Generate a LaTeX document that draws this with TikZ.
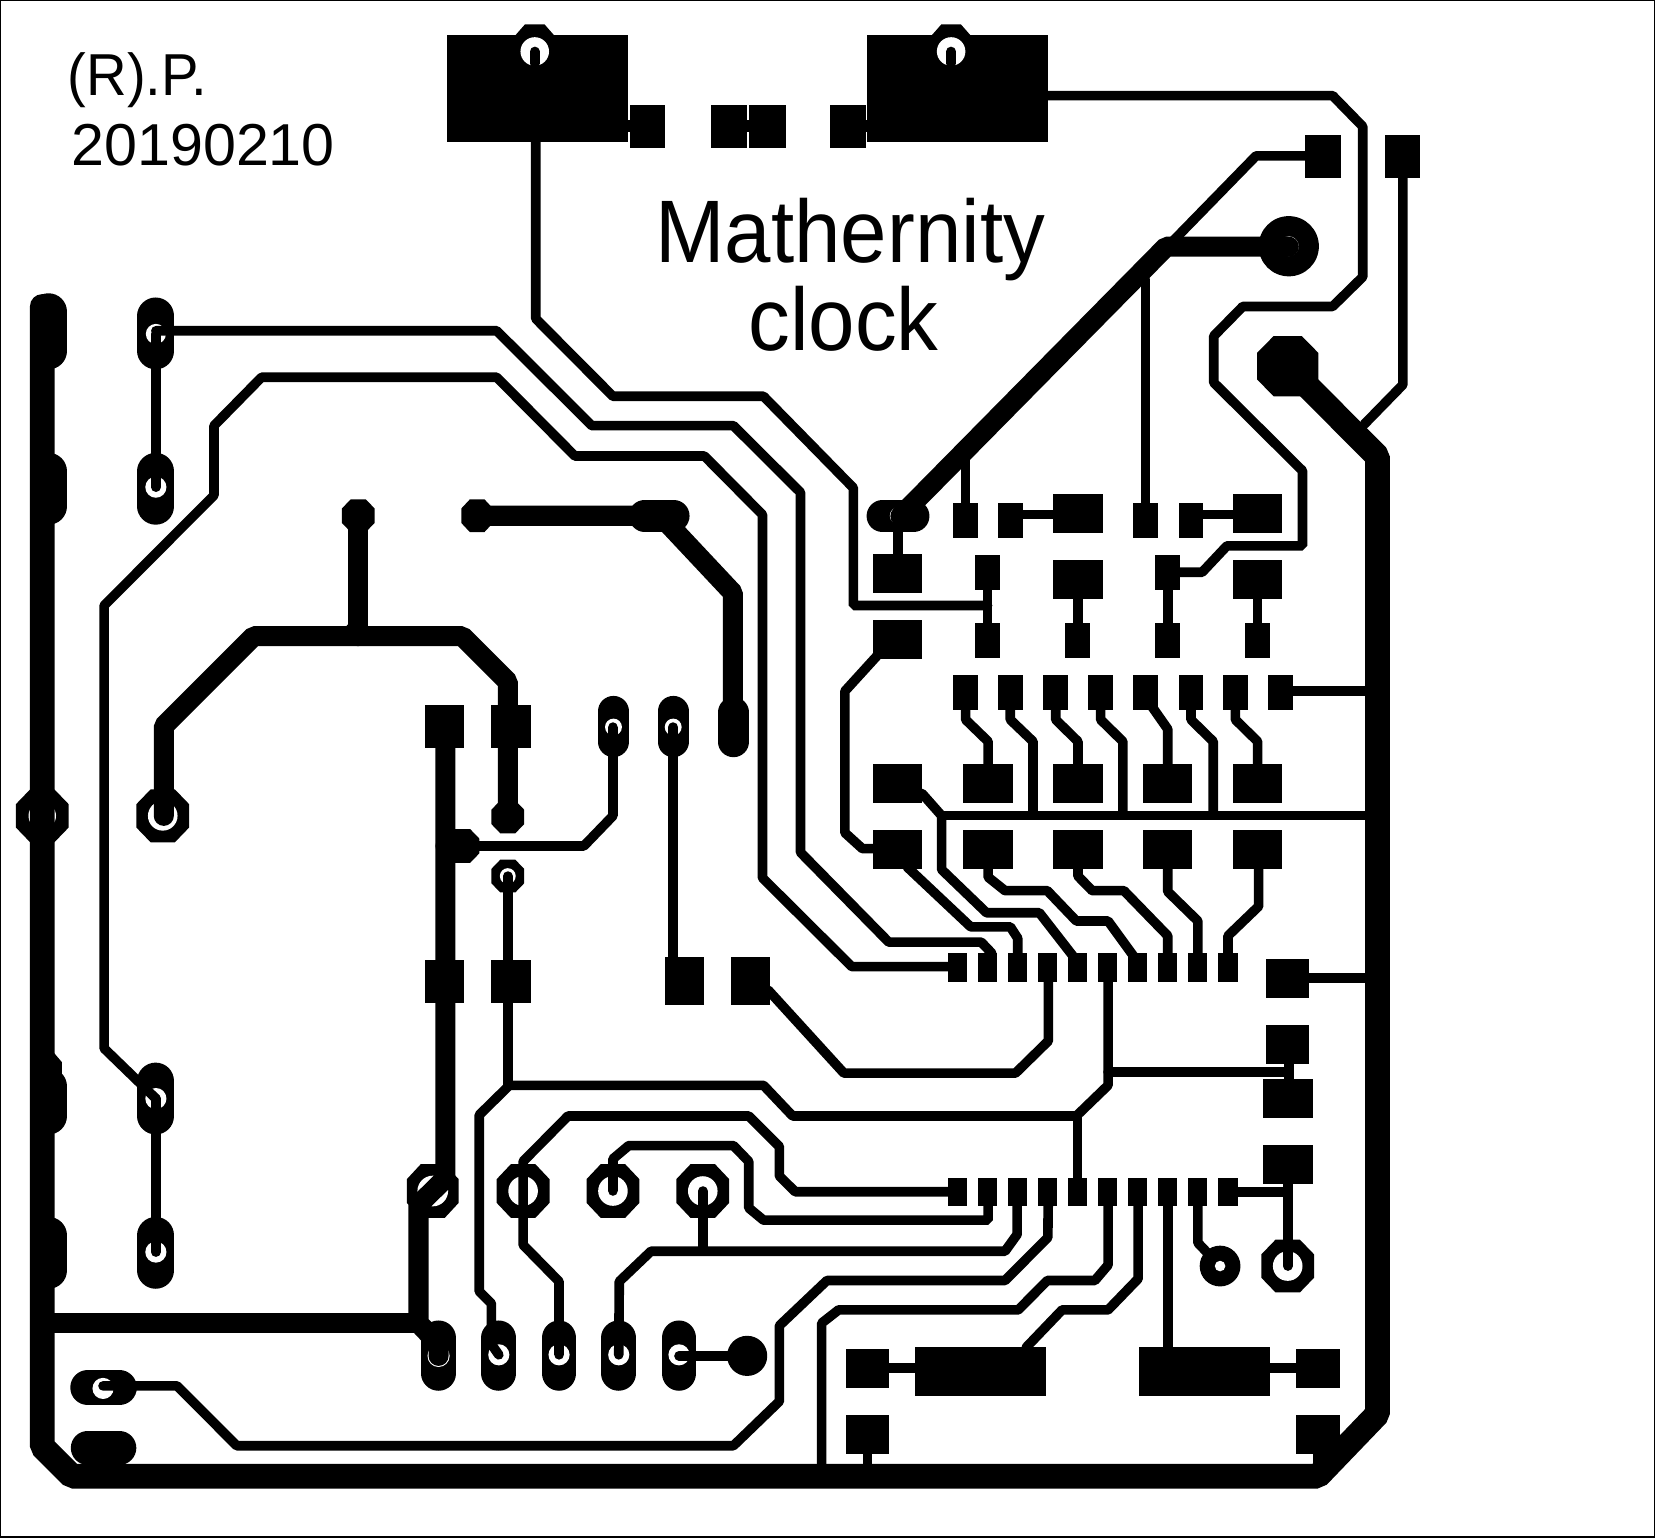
\documentclass[tikz,border=0pt]{standalone}
\usepackage{fontspec}
\setmainfont{Liberation Sans}
\newcommand\octpad[4]{\fill[shift={(#1,#2)},xscale=#3,yscale=#4] (-1,-.44)--(-.46,-1)--(.46,-1)--(1,-.44)--(1,.44)--(.46,1)--(-.46,1)--(-1,.44)--cycle;}
\newcommand\blk[4]{\fill (#1,#2) rectangle (#3,#4);}
\newcommand\holew[3]{\fill[white] (#1,#2) circle (#3pt);}
\newcommand\oblong[4]{\draw[line width=#4pt,line cap=round] (#1,#2)--(#1,#3);}
\tikzset{
  trk/.style={line width=9.1pt,line join=bevel,line cap=round},
  wide/.style={line width=19pt,line join=bevel,line cap=round},
  railw/.style={line width=23.4pt,line join=bevel,line cap=round},
  lbl/.style={inner sep=0pt,anchor=base west}
}
\begin{document}
\begin{tikzpicture}[x=1pt,y=-1pt]
\useasboundingbox (0,0) rectangle (1567,1455);
\fill[white] (0,0) rectangle (1567,1455);
\draw[line width=1.2pt] (0.6,0.6) rectangle (1565.5,1454.4);
% texts
\node[lbl,font=\fontsize{56}{60}\selectfont,xscale=0.95] (t1) at (64,90) {(R).P.};
\node[lbl,font=\fontsize{56}{60}\selectfont] (t2) at (67.5,157) {20190210};
\node[lbl,font=\fontsize{84}{90}\selectfont,xscale=0.94] (t3) at (620,248) {Mathernity};
\node[lbl,font=\fontsize{84}{90}\selectfont,xscale=0.94] (t4) at (708,332) {clock};
% top blocks
\blk{423}{33}{594.5}{134.6}
\blk{820.5}{33}{992}{134.6}
\octpad{506}{45}{20}{22}
\octpad{900}{45}{20}{22}
\blk{596}{99}{629.5}{140}
\blk{672.5}{99}{707}{140}
\blk{709}{99}{743.5}{140}
\blk{785.5}{99}{819}{140}
\blk{592}{113.7}{598}{125.3}
\blk{705}{113.7}{711}{125.3}
\blk{817}{113.7}{823}{125.3}
\blk{1235}{127.6}{1268.5}{168.4}
\blk{1311}{127.6}{1344}{168.4}
% left rail pads
\oblong{46}{295}{332}{35}
\oblong{46}{446}{479}{35}
\oblong{46}{1028}{1056}{35}
\fill (40,995)--(50,995)--(58.5,1005)--(58.5,1020)--(40,1020)--cycle;
\oblong{46}{1169}{1202}{35}
% octagons left
\octpad{40}{772}{25}{25}
\octpad{154}{772}{25}{25}
% column oblongs
\oblong{147.5}{299}{332}{35}
\oblong{147.5}{446}{479}{35}
\oblong{147.5}{1023}{1056}{35}
\oblong{147.5}{1169}{1202}{35}
% small octagons
\octpad{339}{488}{15.5}{15.5}
\octpad{451.5}{488}{15}{15.5}
\draw[line width=30pt,line cap=round] (610,488)--(637.5,488);
\oblong{580.5}{673}{702}{29}
\oblong{637}{673}{702}{29}
\oblong{694}{674}{702}{29}
\blk{402.5}{667}{439.5}{707.6}
\blk{465}{667}{502}{707.6}
\blk{402.5}{908}{439.5}{949}
\blk{465}{908}{502}{949}
\blk{629.5}{905.4}{666.5}{951.4}
\blk{692}{905.4}{729}{951.4}
\octpad{480.5}{773}{15.5}{15.5}
\octpad{480.5}{829}{15.5}{15.5}
\octpad{437.5}{800.5}{16}{16}
\octpad{409.5}{1127}{24.5}{25.5}
\octpad{495}{1127}{25}{25.5}
\octpad{580}{1127}{25}{25.5}
\octpad{665}{1127}{25}{25.5}
% lower oblongs
\oblong{415}{1266}{1299.5}{33}
\oblong{472}{1266}{1299.5}{33}
\oblong{529}{1266}{1299.5}{33}
\oblong{585.5}{1266}{1299.5}{33}
\oblong{642.5}{1266}{1299.5}{33}
\fill (707,1283) circle (19pt);
\draw[line width=33pt,line cap=round] (83,1313)--(113,1313);
\draw[line width=32pt,line cap=round] (83,1370)--(113,1370);
% right side pads
\octpad{1218.5}{346.5}{29}{28.5}
\fill (1219.5,233) circle (28.5pt);
\draw[line width=30pt,line cap=round] (835,488.4)--(864.5,488.4);
\blk{826}{524.4}{872.5}{561}
\blk{826}{586.5}{872.5}{623.2}
\blk{826}{723}{872.5}{759.5}
\blk{826}{785.2}{872.5}{822.4}
\foreach \x in {935,1020,1105,1190}{
  \fill (\x-23.3,723) rectangle (\x+23.3,759.5);
  \fill (\x-23.3,785.2) rectangle (\x+23.3,822.4);
}
\foreach \x in {934.5,1019.5,1105,1190}{
  \fill (\x-12,589.3) rectangle (\x+12,622.7);
}
\foreach \x in {934.5,1105}{
  \fill (\x-12,525.3) rectangle (\x+12,558.2);
}
\foreach \x in {1020,1190}{
  \fill (\x-23.3,530) rectangle (\x+23.3,566.6);
  \fill (\x-23.3,467.3) rectangle (\x+23.3,504.4);
}
\foreach \x in {913.75,956,1084,1127}{
  \fill (\x-11.8,475.6) rectangle (\x+11.8,509);
}
\foreach \x in {913.75,956,999,1041.5,1084,1127,1169,1212}{
  \fill (\x-11.8,638.5) rectangle (\x+11.8,672);
}
\foreach \x in {906,934.5,963,991.5,1019.5,1048,1076.5,1105,1133.5,1162}{
  \fill (\x-9,901.7) rectangle (\x+9,929);
  \fill (\x-9,1114.7) rectangle (\x+9,1141.6);
}
\blk{1198}{907.3}{1239}{944.4}
\blk{1198}{970}{1239}{1007}
\blk{1195.5}{1021}{1242}{1058}
\blk{1195.5}{1083.6}{1242}{1120.3}
\blk{800.5}{1276.7}{841.5}{1313.3}
\blk{866}{1274.8}{990}{1320.7}
\blk{1078}{1274.8}{1202}{1320.7}
\blk{1226.5}{1276.7}{1267.5}{1313.3}
\blk{800.5}{1339}{841.5}{1376}
\blk{1226.5}{1339}{1267.5}{1376}
\blk{1242.5}{1370}{1264}{1392}
\fill (1154.5,1198) circle (19.3pt);
\octpad{1218.5}{1198}{25}{25}
% holes
\holew{506}{48.7}{13.5}
\holew{900}{48.7}{13.5}
\holew{147.5}{316}{9.5}
\holew{147.5}{461}{10}
\holew{147.5}{1039.5}{10}
\holew{147.5}{1184.8}{10}
\holew{40}{772}{13}
\holew{154}{772}{14}
\holew{580.5}{688}{8}
\holew{637}{688}{8}
\holew{480.5}{829}{7.5}
\holew{409.5}{1127}{14.5}
\holew{495}{1127}{14}
\holew{580}{1127}{14}
\holew{665}{1127}{14}
\holew{415}{1283}{10.5}
\holew{472}{1282}{10}
\holew{529}{1282}{10}
\holew{585.5}{1282}{10}
\holew{642.5}{1282}{10}
\holew{97.5}{1313.8}{10}
\holew{850}{488}{8}
\holew{1219.5}{233}{9.4}
\holew{1154.5}{1198}{5}
\holew{1218.5}{1198}{14}
% rail
\draw[railw] (40,290)--(40,1369)--(68,1396.8)--(1247,1396.8)--(1303.5,1338)--(1303.5,432)--(1218.5,346.5);
% wide traces
\draw[wide] (155,772)--(155,687)--(240,602)--(437.5,602)--(480.5,645)--(480.5,772);
\draw[wide] (339,488)--(339,602);
\fill (318,603)--(331,589)--(331,603)--cycle;
\draw[wide] (451.5,488)--(625,488)--(693.5,561)--(693.5,690);
\draw[wide] (421.5,688)--(421.5,1115)--(396,1140)--(396,1252)--(415,1272)--(415,1283);
\draw[wide] (52,1252)--(396,1252);
\draw[wide] (421.5,800.5)--(437,800.5);
\draw[wide] (852,488.4)--(1103.5,233.4)--(1219.5,233.4);
% thin traces
\draw[trk] (506,60)--(506,48.7);
\draw[trk] (900,60)--(900,48.7);
\draw[trk] (507,134)--(507,301.6)--(580,375)--(722.5,375)--(807.5,461.7)--(807.5,573)--(933.5,573);
\draw[trk] (147.5,313)--(470,313)--(560,402.8)--(694,402.8)--(757.5,466)--(757.5,806.6)--(841,891.5)--(928.5,891.5)--(938.5,902);
\draw[trk] (147.5,1039.5)--(98.5,992)--(98.5,573)--(202.5,468.7)--(202.5,402.8)--(247.5,357)--(470,357)--(544,431.5)--(666.5,431.5)--(721.5,487)--(721.5,830.7)--(806,914.7)--(906,914.7);
\draw[trk] (147.5,316)--(147.5,461);
\draw[trk] (147.5,1039.5)--(147.5,1184.8);
\draw[trk] (437,800.5)--(552.5,800.5)--(580,772)--(580,688);
\draw[trk] (637,688)--(637,920);
\draw[trk] (480.5,829)--(480.5,1027);
\draw[trk] (480.5,1027)--(722.5,1027)--(750,1056)--(1018.5,1056)--(1048.5,1027)--(1048.5,915);
\draw[trk] (482,1027)--(453.5,1055)--(453.5,1222)--(465,1233.5)--(465,1272)--(472,1282);
\draw[trk] (727,937)--(798.5,1015.4)--(961,1015.4)--(992,985)--(992,915);
\draw[trk] (529,1282)--(529,1212.6)--(495,1178)--(495,1099)--(537.5,1056)--(708.5,1056)--(737.5,1085)--(737.5,1112.8)--(752.5,1127.7)--(906,1127.7);
\draw[trk] (580,1127)--(580,1096.6)--(595,1084)--(694,1084)--(708.5,1099)--(708.5,1143)--(722.5,1154.6)--(935,1154.6)--(935,1130);
\draw[trk] (665,1127)--(665,1183.8);
\draw[trk] (585.5,1282)--(586,1212.6)--(616,1184)--(951,1184)--(962.5,1168)--(962.5,1130);
\draw[trk] (992,1130)--(991.5,1171)--(951,1211.7)--(782.5,1211.7)--(737.5,1254.4)--(737.5,1326)--(694,1368)--(224,1368)--(167.5,1311.4)--(97.5,1311.4);
\draw[trk] (1048.5,1130)--(1048.5,1197)--(1036,1211.7)--(991,1211.7)--(963.5,1239.5)--(793.5,1239.5)--(777.5,1252)--(777.5,1390);
\draw[trk] (1077,1130)--(1077,1210)--(1048.5,1239.5)--(1005,1239.5)--(971,1275);
\draw[trk] (1105,1130)--(1105,1280);
\draw[trk] (1133.5,1130)--(1133.5,1176)--(1143,1186);
\draw[trk] (1162,1127.7)--(1218.5,1127.7);
\draw[trk] (1218.5,1100)--(1218.5,1198);
\draw[trk] (1019.5,1130)--(1019.5,1056);
\draw[trk] (642.5,1283)--(707,1283);
% upper IC row
\draw[trk] (963,910)--(963,887.8)--(956,877)--(918.5,877)--(858.5,820.5);
\draw[trk] (1019.5,910)--(983.5,863.7)--(933.5,863.7)--(891,822.8)--(891,771.8)--(872.5,750.9);
\draw[trk] (1076.5,910)--(1048.5,871.5)--(1018.5,871.5)--(991,842.8)--(951,842.8)--(935,830)--(935,810);
\draw[trk] (1105,910)--(1105,885.5)--(1063.5,842.8)--(1033.5,842.8)--(1020,829)--(1020,810);
\draw[trk] (1133.5,910)--(1133.5,871.5)--(1105,843.7)--(1105,810);
\draw[trk] (1162,910)--(1162,885.5)--(1191,857.6)--(1191,810);
\draw[trk] (891,771.8)--(1295,771.8);
\draw[trk] (913.75,660)--(913.75,681)--(935,701.6)--(935,730);
\draw[trk] (956,660)--(956,681)--(977.5,701.6)--(977.5,771);
\draw[trk] (999,660)--(999,681)--(1020,701.6)--(1020,730);
\draw[trk] (1041.5,660)--(1041.5,681)--(1062.5,701.6)--(1062.5,771);
\draw[trk] (1084,660)--(1105,690)--(1105,730);
\draw[trk] (1127,660)--(1127,681)--(1148,701.6)--(1148,771);
\draw[trk] (1169,660)--(1169,681)--(1190,701.6)--(1190,730);
\draw[trk] (1212,654)--(1295,654);
\draw[trk] (1220,925.4)--(1295,925.4);
\draw[trk] (1048.5,1014.5)--(1219.5,1014.5);
\draw[trk] (1219.5,1000)--(1219.5,1030);
\draw[trk] (841,1294.7)--(866,1294.7);
\draw[trk] (1202,1294.7)--(1230,1294.7);
\draw[trk] (821,1370)--(821,1390);
% row y 488-605 links
\draw[trk] (850,495)--(850,530);
\draw[trk] (934.5,555)--(934.5,592);
\draw[trk] (933.5,573)--(934.5,573);
\draw[trk] (1020,560)--(1020,592);
\draw[trk] (1105,555)--(1105,592);
\draw[trk] (1190,560)--(1190,592);
\draw[trk] (968,487)--(1000,487);
\draw[trk] (1138.5,487)--(1170,487);
\draw[trk] (913.75,480)--(913.75,436);
\draw[trk] (1084,480)--(1084,264.5);
\draw[trk] (1110,228)--(1188.5,147.5)--(1240,147.5);
\draw[trk] (1327.5,150)--(1327.5,364)--(1291,401.4);
\draw[trk] (992,90.5)--(1261,90.5)--(1289.5,119.7)--(1289.5,262)--(1261,290)--(1176,290)--(1148.5,318)--(1148.5,362)--(1232.5,445.5)--(1232.5,516.5)--(1161,516.5)--(1137.5,541.5)--(1110,541.5);
\draw[trk] (835,615)--(799.5,654)--(799.5,788)--(816,803)--(830,803);
\end{tikzpicture}
\end{document}
